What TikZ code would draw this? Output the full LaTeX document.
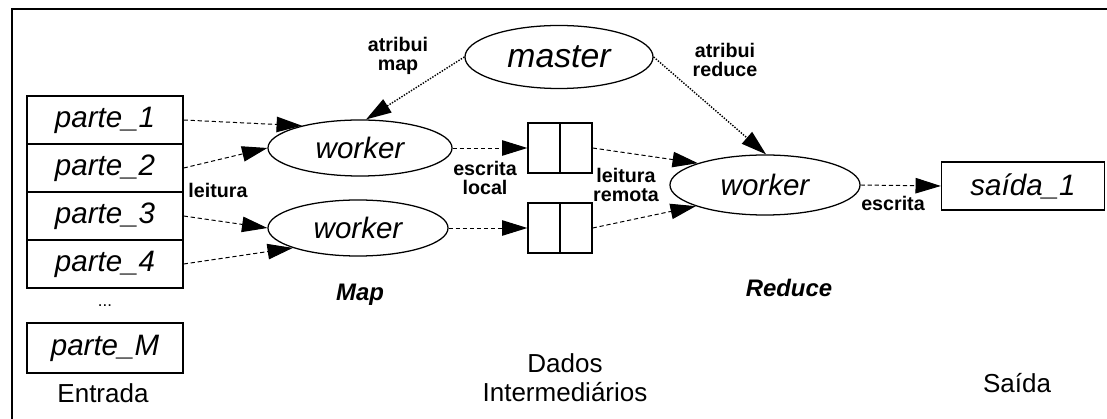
\documentclass[tikz,border=0pt]{standalone}
\usepackage{fontspec}
\setmainfont{Liberation Sans}
\usetikzlibrary{shapes.geometric,arrows.meta}

\tikzset{
  px/.style={x=0.025cm,y=-0.025cm},
  part/.style={draw,line width=0.9pt,minimum width=3.9cm,minimum height=1.2cm,inner sep=0pt,font=\fontsize{21}{23}\selectfont\itshape},
  proc/.style={draw,ellipse,line width=0.9pt,inner sep=0pt,font=\fontsize{21}{23}\selectfont\itshape},
  cell/.style={draw,line width=0.9pt,minimum width=0.8cm,minimum height=1.25cm,inner sep=0pt},
  tag/.style={font=\fontsize{14}{14.2}\selectfont\bfseries,align=center,inner sep=0pt},
  caption/.style={font=\fontsize{18.5}{21}\selectfont,align=center,inner sep=0pt},
  phase/.style={font=\fontsize{17}{19}\selectfont\itshape\bfseries,inner sep=0pt},
  flow/.style={densely dashed,line width=0.7pt,-{Triangle[length=18pt,width=11pt]}},
  ctrl/.style={densely dotted,line width=1pt,-{Triangle[length=18pt,width=11pt]}},
}

\begin{document}
\begin{tikzpicture}[px]
\useasboundingbox (0,0) rectangle (1107,419);

% frame
\draw[line width=1.6pt] (12,419) -- (12,9) -- (1107,9);

% input splits
\node[part] (p1) at (105,120) {parte\_1};
\node[part] (p2) at (105,168) {parte\_2};
\node[part] (p3) at (105,216) {parte\_3};
\node[part] (p4) at (105,264) {parte\_4};
\node[font=\fontsize{12}{12}\selectfont] (dots) at (105,306) {...};
\node[part,minimum height=1.25cm] (pM) at (105,348) {parte\_M};
\node[caption,anchor=base] (entrada) at (103,403) {Entrada};

% master and workers
\node[proc,minimum width=4.7cm,minimum height=1.575cm,font=\fontsize{24}{26}\selectfont\itshape] (master) at (559,57) {master};
\node[proc,minimum width=4.6cm,minimum height=1.4cm] (w1) at (360,148) {worker};
\node[proc,minimum width=4.5cm,minimum height=1.4cm] (w2) at (358,228) {worker};
\node[proc,minimum width=4.75cm,minimum height=1.5cm] (wr) at (765,185) {worker};
\node[phase,anchor=base] (map) at (360,301) {Map};
\node[phase,anchor=base] (reduce) at (789,297) {Reduce};

% intermediate files
\node[cell] (b1a) at (544,148) {};
\node[cell] (b1b) at (576,148) {};
\node[cell] (b2a) at (544,228) {};
\node[cell] (b2b) at (576,228) {};
\node[caption,anchor=base] (dados) at (565,402) {Dados\\Intermediários};

% output
\node[part,minimum width=4.075cm,minimum height=1.2cm] (s1) at (1023,186) {saída\_1};
\node[caption,anchor=base] (saida) at (1017,393) {Saída};

% labels (base anchor sits on the last line)
\node[tag,anchor=base] (lmap) at (398,71) {atribui\\map};
\node[tag,anchor=base] (lred) at (725,77) {atribui\\reduce};
\node[tag,anchor=base] (lread) at (218,198) {leitura};
\node[tag,anchor=base] (lloc) at (485,195) {escrita\\local};
\node[tag,anchor=base] (lrem) at (626,202) {leitura\\remota};
\node[tag,anchor=base] (lwr) at (893,211) {escrita};

% reading the splits
\draw[flow] (p1.east) -- (w1.159);
\draw[flow] (p2.east) -- (w1.west);
\draw[flow] (p3.east) -- (w2.west);
\draw[flow] (p4.east) -- (w2.197);

% assignments from master
\draw[ctrl] (master.west) -- (w1.78);
\draw[ctrl] (master.east) -- (wr.88);

% local writes and remote reads
\draw[flow] (w1.east) -- (b1a.west);
\draw[flow] (w2.east) -- (b2a.west);
\draw[flow] (b1b.east) -- (wr.162);
\draw[flow] (b2b.east) -- (wr.197);

% final write
\draw[flow] (wr.east) -- (s1.west);
\end{tikzpicture}
\end{document}
